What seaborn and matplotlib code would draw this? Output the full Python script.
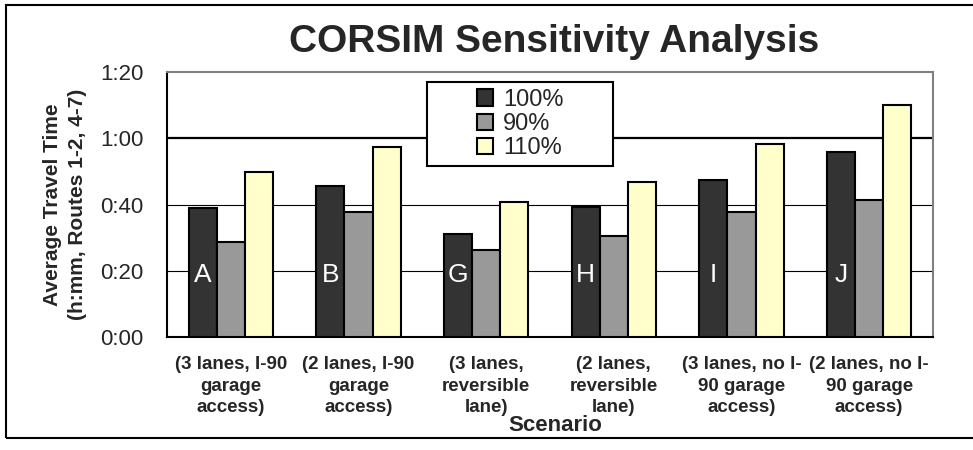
import matplotlib
matplotlib.use("Agg")
import matplotlib.pyplot as plt
import matplotlib.patches as mpatches
import matplotlib.ticker as mticker
import pandas as pd
import seaborn as sns

# Travel time in minutes
scenarios = ["A", "B", "G", "H", "I", "J"]
tick_labels = [
    "(3 lanes, I-90\ngarage\naccess)",
    "(2 lanes, I-90\ngarage\naccess)",
    "(3 lanes,\nreversible\nlane)",
    "(2 lanes,\nreversible\nlane)",
    "(3 lanes, no I-\n90 garage\naccess)",
    "(2 lanes, no I-\n90 garage\naccess)",
]
levels = ["100%", "90%", "110%"]
time_100 = [38.9, 45.5, 31.2, 39.1, 47.3, 55.8]
time_90 = [28.8, 37.8, 26.2, 30.5, 37.8, 41.4]
time_110 = [49.7, 57.3, 40.7, 46.7, 58.2, 69.9]
y_ticks = [0, 20, 40, 60, 80]

colors = {"100%": "#333333", "90%": "#999999", "110%": "#FFFFCC"}

rows = []
for lvl, vals in zip(levels, [time_100, time_90, time_110]):
    for sc, v in zip(scenarios, vals):
        rows.append({"scenario": sc, "level": lvl, "minutes": v})
df = pd.DataFrame(rows)

sns.set_style("white")
plt.rcParams["font.family"] = ["Liberation Sans", "DejaVu Sans"]

fig = plt.figure(figsize=(9.73, 4.5), dpi=100)
ax = fig.add_axes([0.1716, 0.2511, 0.7873, 0.5889])

# outer chart frame
fig.patches.append(mpatches.Rectangle((6 / 973, 12 / 450), 1.0, 433 / 450,
                                      transform=fig.transFigure, fill=False,
                                      edgecolor="black", linewidth=1.5))

sns.barplot(data=df, x="scenario", y="minutes", hue="level", hue_order=levels,
            palette=colors, width=0.66, gap=0, edgecolor="black", linewidth=1.5,
            saturation=1, ax=ax, zorder=3)

ax.set_ylim(0, 80)
ax.set_xlim(-0.5, len(scenarios) - 0.5)
ax.set_yticks(y_ticks)
ax.yaxis.set_major_formatter(mticker.FuncFormatter(lambda v, p: f"{int(v // 60)}:{int(v % 60):02d}"))
for t in y_ticks[1:-1]:
    ax.axhline(t, color="black", linewidth=1.6 if t == 60 else 0.8, zorder=1)

ax.set_xticks(range(len(scenarios)))
ax.set_xticklabels(tick_labels, fontsize=13.5, fontweight="bold", linespacing=1.32)
ax.set_xticks([i - 0.5 for i in range(len(scenarios) + 1)], minor=True)
ax.tick_params(axis="x", which="major", length=0, pad=14)
ax.tick_params(axis="x", which="minor", length=4, width=1.5, color="black", direction="out")
ax.tick_params(axis="y", length=5, width=1.5, color="black", direction="out", pad=12, labelsize=16)

for side in ["left", "bottom"]:
    ax.spines[side].set_color("black")
    ax.spines[side].set_linewidth(1.5)
for side in ["top", "right"]:
    ax.spines[side].set_color("#808080")
    ax.spines[side].set_linewidth(1.5)

ax.set_ylabel("Average Travel Time\n(h:mm, Routes 1-2, 4-7)", fontsize=15,
              fontweight="bold", linespacing=1.4)
ax.yaxis.set_label_coords(-0.105, 0.5)
ax.set_xlabel("Scenario", fontsize=16, fontweight="bold", va="top")
ax.xaxis.set_label_coords(0.5065, -0.295)

# scenario letters on the 100% bars
for bar, letter in zip(ax.containers[0], scenarios):
    ax.text(bar.get_x() + bar.get_width() / 2, 18.7, letter, color="white",
            fontsize=19, ha="center", va="center", zorder=4)

# legend with its own box
ax.add_patch(mpatches.Rectangle((0.34, 0.645), 0.242, 0.317, transform=ax.transAxes,
                                facecolor="white", edgecolor="black", linewidth=1.5,
                                zorder=4.5))
handles = [mpatches.Patch(facecolor=colors[l], edgecolor="black", linewidth=1.5) for l in levels]
ax.legend(handles, levels, loc="center", bbox_to_anchor=(0.461, 0.8035), frameon=False,
          fontsize=17, handlelength=0.7, handleheight=0.7, handletextpad=0.4,
          labelspacing=0.1, borderpad=0)

fig.text(0.570, 0.907, "CORSIM Sensitivity Analysis", fontsize=28, fontweight="bold",
         ha="center", va="center")

fig.savefig("out.png", dpi=100)
